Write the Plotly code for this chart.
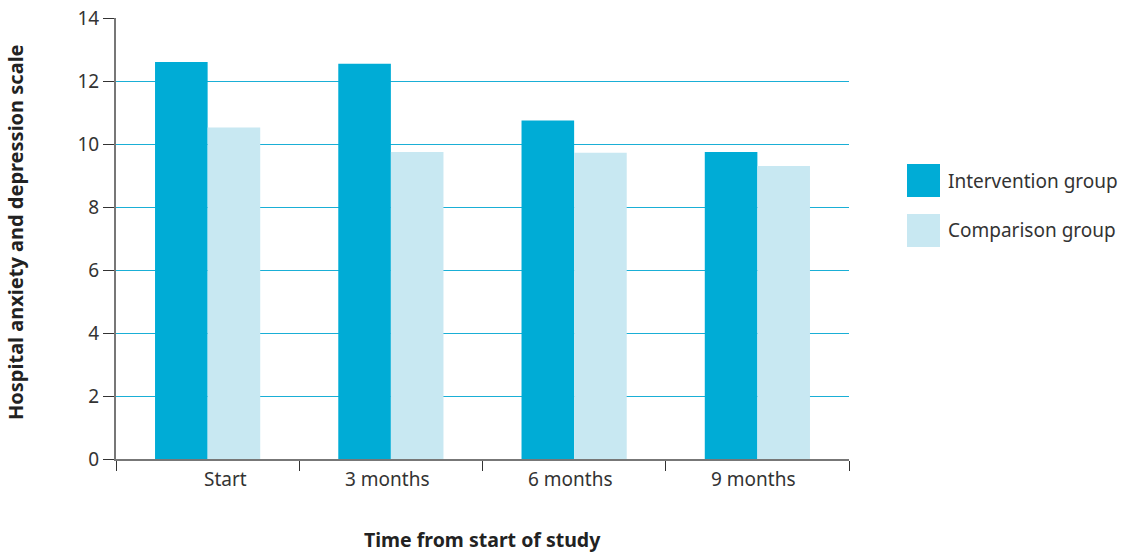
import plotly.graph_objects as go

categories = ["Start", "3 months", "6 months", "9 months"]
intervention = [12.6, 12.55, 10.75, 9.75]
comparison = [10.52, 9.75, 9.72, 9.3]
series_names = ["Intervention group", "Comparison group"]
y_ticks = [0, 2, 4, 6, 8, 10, 12, 14]

C_INT = "#00ACD6"
C_CMP = "#C8E8F2"
TXT = "#333333"
FONT = "Noto Sans"

L, R, T, B = 116, 849, 18, 459
PW, PH = R - L, B - T

fig = go.Figure()
fig.add_trace(go.Bar(x=categories, y=intervention, name=series_names[0],
                     marker=dict(color=C_INT, line=dict(width=0))))
fig.add_trace(go.Bar(x=categories, y=comparison, name=series_names[1],
                     marker=dict(color=C_CMP, line=dict(width=0))))

fig.update_layout(
    width=1126, height=553,
    margin=dict(l=L, r=1126 - R, t=T, b=553 - B, autoexpand=False),
    paper_bgcolor="white", plot_bgcolor="white",
    barmode="group", bargap=0.426, bargroupgap=0,
    showlegend=False,
    font=dict(family=FONT, color=TXT, size=18),
)
fig.update_xaxes(
    showticklabels=False, tickson="boundaries", ticks="outside", ticklen=10,
    tickcolor="#333333", tickwidth=1.3, automargin=False,
    showline=True, linecolor="#777777", linewidth=2,
    showgrid=False, zeroline=False,
)
fig.update_yaxes(
    range=[0, 14], tickvals=y_ticks, ticks="outside", ticklen=11,
    tickcolor="#333333", tickwidth=1.3, automargin=False,
    showline=True, linecolor="#777777", linewidth=2,
    showgrid=True, gridcolor="#1AAFD6", gridwidth=1.3,
    zeroline=False, tickfont=dict(size=19, color=TXT),
)

# axis titles
fig.add_annotation(xref="paper", yref="paper", x=(482 - L) / PW, y=-(539 - B) / PH,
                   text="<b>Time from start of study</b>", showarrow=False,
                   xanchor="center", yanchor="middle", font=dict(size=19.5, color="#222222"))
fig.add_annotation(xref="paper", yref="paper", x=(15 - L) / PW, y=1 - (232 - T) / PH,
                   text="<b>Hospital anxiety and depression scale</b>", showarrow=False,
                   textangle=-90, xanchor="center", yanchor="middle",
                   font=dict(size=20, color="#222222"))

# category labels, right-aligned offset from category centre
for c in categories:
    fig.add_annotation(x=c, y=0, xref="x", yref="y", text=c, showarrow=False,
                       xanchor="right", yanchor="top", xshift=41, yshift=-5,
                       font=dict(size=19, color=TXT))

# custom legend
leg_x0 = (907 - L) / PW
leg_x1 = (940 - L) / PW
for i, (name, col) in enumerate(zip(series_names, [C_INT, C_CMP])):
    top = 164 + i * 50
    y1 = 1 - (top - T) / PH
    y0 = 1 - (top + 33 - T) / PH
    fig.add_shape(type="rect", xref="paper", yref="paper", x0=leg_x0, x1=leg_x1,
                  y0=y0, y1=y1, fillcolor=col, line=dict(width=0))
    fig.add_annotation(xref="paper", yref="paper", x=(946 - L) / PW,
                       y=(y0 + y1) / 2, text=name, showarrow=False,
                       xanchor="left", yanchor="middle", font=dict(size=19, color=TXT))

fig.write_html("out.html", config={"displayModeBar": False},
               post_script="document.body.style.margin='0';document.body.style.overflow='hidden';")
